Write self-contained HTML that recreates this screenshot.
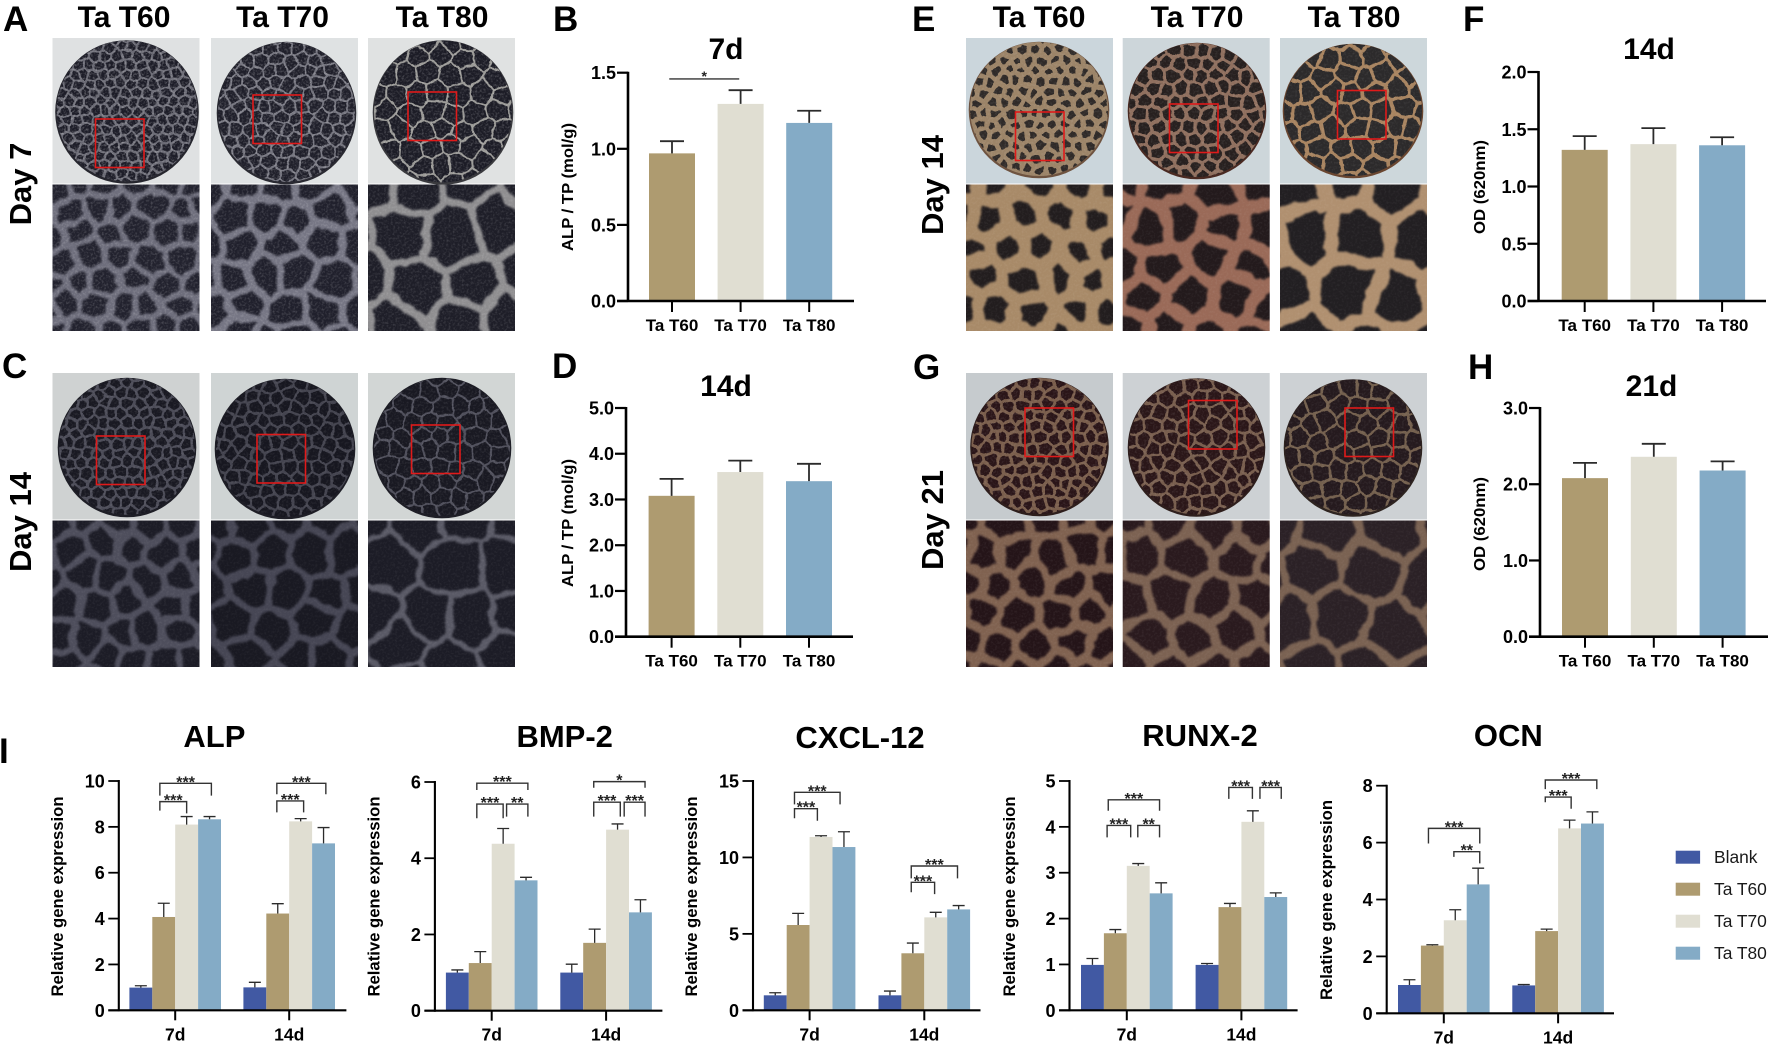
<!DOCTYPE html>
<html lang="en">
<head>
<meta charset="utf-8">
<title>Ta T60 / T70 / T80 staining and gene expression figure</title>
<style>
html,body{margin:0;padding:0;background:#fff;width:1772px;height:1049px;overflow:hidden}
svg{display:block;font-family:"Liberation Sans",Arial,sans-serif}
.bold{font-weight:bold;fill:#000}
</style>
</head>
<body>
<svg id="figure" xmlns="http://www.w3.org/2000/svg" width="1772" height="1049" viewBox="0 0 1772 1049">
<defs>
<filter id="wobble" x="-5%" y="-5%" width="110%" height="110%" color-interpolation-filters="sRGB">
<feTurbulence type="fractalNoise" baseFrequency="0.14" numOctaves="2" seed="4" result="n"/>
<feDisplacementMap in="SourceGraphic" in2="n" scale="3.5" xChannelSelector="R" yChannelSelector="G"/>
<feGaussianBlur stdDeviation="0.35"/>
</filter>
<filter id="wobbleBig" x="-5%" y="-5%" width="110%" height="110%" color-interpolation-filters="sRGB">
<feTurbulence type="fractalNoise" baseFrequency="0.05" numOctaves="3" seed="9" result="n"/>
<feDisplacementMap in="SourceGraphic" in2="n" scale="11" xChannelSelector="R" yChannelSelector="G"/>
<feGaussianBlur stdDeviation="1"/>
</filter>
<filter id="grain" x="0" y="0" width="100%" height="100%" color-interpolation-filters="sRGB">
<feTurbulence type="fractalNoise" baseFrequency="0.45" numOctaves="2" seed="2"/>
<feColorMatrix type="matrix" values="0 0 0 0 1  0 0 0 0 1  0 0 0 0 1  2.4 0 0 0 -1.05"/>
</filter>
</defs>
<g id="photos"></g>
<g id="charts"></g>

<g class="bold" font-size="35">
<text class="bold" x="3" y="31">A</text>
<text class="bold" x="553" y="31">B</text>
<text class="bold" x="912" y="31">E</text>
<text class="bold" x="1463" y="31">F</text>
<text class="bold" x="2" y="378">C</text>
<text class="bold" x="552" y="378">D</text>
<text class="bold" x="913" y="379">G</text>
<text class="bold" x="1468" y="379">H</text>
<text class="bold" x="-1" y="763">I</text>
</g>

<g font-size="30" text-anchor="middle">
<text class="bold" x="124" y="27">Ta T60</text>
<text class="bold" x="282.5" y="27">Ta T70</text>
<text class="bold" x="442" y="27">Ta T80</text>
<text class="bold" x="1039" y="27">Ta T60</text>
<text class="bold" x="1197" y="27">Ta T70</text>
<text class="bold" x="1354" y="27">Ta T80</text>
</g>

<g font-size="31" text-anchor="middle">
<text class="bold" transform="translate(31,184) rotate(-90)">Day 7</text>
<text class="bold" transform="translate(31,522) rotate(-90)">Day 14</text>
<text class="bold" transform="translate(943,185) rotate(-90)">Day 14</text>
<text class="bold" transform="translate(943,520) rotate(-90)">Day 21</text>
</g>

<g text-anchor="middle">
<text class="bold" font-size="30" x="726" y="59">7d</text>
<text class="bold" font-size="30" x="726" y="396">14d</text>
<text class="bold" font-size="30" x="1649" y="59">14d</text>
<text class="bold" font-size="30" x="1651.5" y="396">21d</text>
<text class="bold" font-size="31" x="214.4" y="747">ALP</text>
<text class="bold" font-size="31" x="564.7" y="747">BMP-2</text>
<text class="bold" font-size="31" x="860" y="748">CXCL-12</text>
<text class="bold" font-size="31" x="1200" y="746">RUNX-2</text>
<text class="bold" font-size="31" x="1508.3" y="746">OCN</text>
</g>

<g text-anchor="middle">
<text class="bold" font-size="16" textLength="128" lengthAdjust="spacingAndGlyphs" transform="translate(573,187) rotate(-90)">ALP / TP (mol/g)</text>
<text class="bold" font-size="16" textLength="128" lengthAdjust="spacingAndGlyphs" transform="translate(573,523) rotate(-90)">ALP / TP (mol/g)</text>
<text class="bold" font-size="16" textLength="94" lengthAdjust="spacingAndGlyphs" transform="translate(1485,187) rotate(-90)">OD (620nm)</text>
<text class="bold" font-size="16" textLength="94" lengthAdjust="spacingAndGlyphs" transform="translate(1485,524) rotate(-90)">OD (620nm)</text>
<text class="bold" font-size="17" textLength="200" lengthAdjust="spacingAndGlyphs" transform="translate(63,896.5) rotate(-90)">Relative gene expression</text>
<text class="bold" font-size="17" textLength="200" lengthAdjust="spacingAndGlyphs" transform="translate(379.5,896.5) rotate(-90)">Relative gene expression</text>
<text class="bold" font-size="17" textLength="200" lengthAdjust="spacingAndGlyphs" transform="translate(697,896.5) rotate(-90)">Relative gene expression</text>
<text class="bold" font-size="17" textLength="200" lengthAdjust="spacingAndGlyphs" transform="translate(1015,896.5) rotate(-90)">Relative gene expression</text>
<text class="bold" font-size="17" textLength="200" lengthAdjust="spacingAndGlyphs" transform="translate(1332,900) rotate(-90)">Relative gene expression</text>
</g>

<g font-size="17.4" fill="#1a1a1a">
<g><rect x="1675.7" y="850.7" width="24.4" height="13" fill="#4159A3"/><text x="1714" y="863">Blank</text></g>
<g><rect x="1675.7" y="882.7" width="24.4" height="13" fill="#AE9B70"/><text x="1714" y="895">Ta T60</text></g>
<g><rect x="1675.7" y="914.7" width="24.4" height="13" fill="#E0DED2"/><text x="1714" y="927">Ta T70</text></g>
<g><rect x="1675.7" y="946.7" width="24.4" height="13" fill="#84ABC6"/><text x="1714" y="959">Ta T80</text></g>
</g>
</svg>

<script>
/* ---------- chart data ---------- */
const materialCategories = ['Ta T60', 'Ta T70', 'Ta T80'];
const dayCategories = ['7d', '14d'];
const seriesNames = ['blank', 'ta-t60', 'ta-t70', 'ta-t80'];

const panelBMeans = [0.97, 1.295, 1.17];
const panelBErrors = [0.08, 0.09, 0.08];
const panelBTicks = ['0.0', '0.5', '1.0', '1.5'];
const panelDMeans = [3.08, 3.6, 3.4];
const panelDErrors = [0.37, 0.25, 0.38];
const panelDTicks = ['0.0', '1.0', '2.0', '3.0', '4.0', '5.0'];
const panelFMeans = [1.32, 1.37, 1.36];
const panelFErrors = [0.12, 0.14, 0.07];
const panelFTicks = ['0.0', '0.5', '1.0', '1.5', '2.0'];
const panelHMeans = [2.08, 2.36, 2.18];
const panelHErrors = [0.2, 0.17, 0.12];
const panelHTicks = ['0.0', '1.0', '2.0', '3.0'];

const alp7dMeans = [0.99, 4.07, 8.1, 8.33];
const alp7dErrors = [0.08, 0.6, 0.35, 0.12];
const alp14dMeans = [1.0, 4.22, 8.24, 7.28];
const alp14dErrors = [0.22, 0.43, 0.12, 0.69];
const alpTicks = ['0', '2', '4', '6', '8', '10'];

const bmp7dMeans = [1.0, 1.25, 4.38, 3.42];
const bmp7dErrors = [0.07, 0.3, 0.4, 0.08];
const bmp14dMeans = [1.0, 1.78, 4.75, 2.58];
const bmp14dErrors = [0.22, 0.36, 0.15, 0.33];
const bmpTicks = ['0', '2', '4', '6'];

const cxcl7dMeans = [0.98, 5.58, 11.34, 10.68];
const cxcl7dErrors = [0.17, 0.76, 0.08, 1.0];
const cxcl14dMeans = [0.98, 3.73, 6.08, 6.6];
const cxcl14dErrors = [0.28, 0.67, 0.33, 0.25];
const cxclTicks = ['0', '5', '10', '15'];

const runx7dMeans = [0.99, 1.68, 3.15, 2.55];
const runx7dErrors = [0.14, 0.08, 0.05, 0.23];
const runx14dMeans = [0.99, 2.25, 4.11, 2.47];
const runx14dErrors = [0.03, 0.08, 0.24, 0.09];
const runxTicks = ['0', '1', '2', '3', '4', '5'];

const ocn7dMeans = [0.995, 2.38, 3.27, 4.53];
const ocn7dErrors = [0.185, 0.03, 0.37, 0.57];
const ocn14dMeans = [0.98, 2.89, 6.5, 6.67];
const ocn14dErrors = [0.03, 0.07, 0.29, 0.41];
const ocnTicks = ['0', '2', '4', '6', '8'];

/* significance brackets: barFrom, barTo, topValue, leftEndValue, rightEndValue, stars */
const panelBBracket = [-0.04, 0.98, 1.459, '*'];
const alp7dBrackets = [[0.83, 3.08, 9.9, 9.36, 9.36, '***'], [0.83, 2, 9.1, 8.71, 8.59, '***']];
const alp14dBrackets = [[0.96, 3.1, 9.9, 9.42, 9.42, '***'], [0.96, 2.13, 9.13, 8.63, 8.63, '***']];
const bmp7dBrackets = [[0.85, 3.08, 5.97, 5.79, 5.79, '***'], [0.85, 2, 5.42, 5.05, 5.05, '***'], [2.15, 3.08, 5.42, 5.09, 5.09, '**']];
const bmp14dBrackets = [[0.96, 3.2, 6.01, 5.85, 5.85, '*'], [0.96, 2.12, 5.47, 5.09, 5.09, '***'], [2.29, 3.2, 5.47, 5.09, 5.09, '***']];
const cxcl7dBrackets = [[0.84, 2.83, 14.26, 13.47, 13.47, '***'], [0.84, 1.84, 13.19, 12.56, 12.4, '***']];
const cxcl14dBrackets = [[0.93, 2.95, 9.44, 8.63, 8.63, '***'], [0.93, 1.95, 8.37, 7.72, 7.6, '***']];
const runx7dBrackets = [[0.69, 2.93, 4.59, 4.35, 4.35, '***'], [0.64, 1.67, 4.03, 3.77, 3.77, '***'], [1.98, 2.93, 4.03, 3.77, 3.77, '**']];
const runx14dBrackets = [[0.95, 1.98, 4.86, 4.61, 4.61, '***'], [2.31, 3.24, 4.86, 4.61, 4.61, '***']];
const ocn7dBrackets = [[0.83, 3.07, 6.5, 5.97, 5.97, '***'], [1.94, 3.07, 5.68, 5.5, 5.27, '**']];
const ocn14dBrackets = [[0.94, 3.19, 8.2, 7.88, 7.88, '***'], [0.94, 2.07, 7.6, 7.42, 7.19, '***']];

const barColors = ['#4159A3', '#AE9B70', '#E0DED2', '#84ABC6'];
const materialColors = ['#AE9B70', '#E0DED2', '#84ABC6'];

/* ---------- helpers ---------- */
const NS = 'http://www.w3.org/2000/svg';
function mk(tag, attrs, parent, text) {
  const el = document.createElementNS(NS, tag);
  for (const k in attrs) el.setAttribute(k, attrs[k]);
  if (text !== undefined) el.textContent = text;
  parent.appendChild(el);
  return el;
}
const chartsRoot = document.getElementById('charts');
const photosRoot = document.getElementById('photos');

function drawAxes(g, id, scaleY, axisX, xLeft, xEnd, y0, tickLabels, labelGap, axisW, tickFont) {
  const yLine = mk('line', {x1: axisX, x2: axisX, y1: scaleY(parseFloat(tickLabels[tickLabels.length - 1])) - 1, y2: y0 + 1, stroke: '#000', 'stroke-width': axisW}, g);
  
  
  const xLine = mk('line', {x1: xLeft, x2: xEnd, y1: y0, y2: y0, stroke: '#000', 'stroke-width': axisW}, g);
  
  
  tickLabels.forEach(function (lab) {
    const y = scaleY(parseFloat(lab));
    const tick = mk('line', {x1: xLeft, x2: axisX, y1: y, y2: y, stroke: '#000', 'stroke-width': axisW * 0.85}, g);
    
    
    const label = mk('text', {x: axisX - labelGap, y: y + 6.5, 'text-anchor': 'end', 'font-size': tickFont, 'font-weight': 'bold', fill: '#000'}, g, lab);
    
    
  });
}

function drawBarWithError(g, name, x, w, scaleY, y0, mean, err, color, capW, stemW) {
  const top = scaleY(mean);
  const bar = mk('rect', {x: x, y: top, width: w, height: y0 - top, fill: color}, g);
  
  
  const cx = x + w / 2;
  const errY = scaleY(mean + err);
  const stem = mk('path', {d: 'M' + cx + ' ' + top + 'V' + errY + 'M' + (cx - capW / 2) + ' ' + errY + 'H' + (cx + capW / 2), fill: 'none', stroke: '#2b2b2b', 'stroke-width': stemW}, g);
  
  
}

function drawSimplePanel(id, axisX, y0, yTop, xEnd, firstBar, step, barW, means, errors, ticks) {
  const g = mk('g', {}, chartsRoot);
  
  
  const max = parseFloat(ticks[ticks.length - 1]);
  const scaleY = function (v) { return y0 - v / max * (y0 - yTop); };
  const barX = function (i) { return firstBar + i * step; };
  means.forEach(function (m, i) {
    drawBarWithError(g, id + '-bar-' + materialCategories[i].replace(' ', '-').toLowerCase(), barX(i), barW, scaleY, y0, m, errors[i], materialColors[i], 24, 1.8);
  });
  drawAxes(g, id, scaleY, axisX, axisX - 11, xEnd, y0, ticks, 12, 2.6, 18);
  materialCategories.forEach(function (c, i) {
    const cx = barX(i) + barW / 2;
    const t = mk('line', {x1: cx, x2: cx, y1: y0, y2: y0 + 11, stroke: '#000', 'stroke-width': 2}, g);
    
    
    const lab = mk('text', {x: cx, y: y0 + 30, 'text-anchor': 'middle', 'font-size': 17, 'font-weight': 'bold', fill: '#000'}, g, c);
    
    
  });
  return {g: g, scaleY: scaleY, barX: barX, barW: barW};
}

function drawBracket(g, id, xOf, scaleY, b) {
  const xa = xOf(b[0]);
  const xb = xOf(b[1]);
  const top = scaleY(b[2]);
  const path = mk('path', {d: 'M' + xa + ' ' + scaleY(b[3]) + 'V' + top + 'H' + xb + 'V' + scaleY(b[4]), fill: 'none', stroke: '#333', 'stroke-width': 1.4}, g);
  
  
  const star = mk('text', {x: (xa + xb) / 2, y: top + 4, 'text-anchor': 'middle', 'font-size': 16, 'font-weight': 'bold', fill: '#222'}, g, b[5]);
  
  
}

function drawGroupedPanel(id, axisX, y0, yTop, xEnd, firstBar, groupStep, barW, means, errors, ticks, brackets) {
  const g = mk('g', {}, chartsRoot);
  
  
  const max = parseFloat(ticks[ticks.length - 1]);
  const scaleY = function (v) { return y0 - v / max * (y0 - yTop); };
  const barX = function (group, s) { return firstBar + group * groupStep + s * barW; };
  dayCategories.forEach(function (day, gi) {
    means[gi].forEach(function (m, s) {
      drawBarWithError(g, id + '-bar-' + day + '-' + seriesNames[s], barX(gi, s), barW, scaleY, y0, m, errors[gi][s], barColors[s], 12, 1.3);
    });
  });
  drawAxes(g, id, scaleY, axisX, axisX - 10.5, xEnd, y0, ticks, 14, 2.1, 18);
  dayCategories.forEach(function (day, gi) {
    const cx = barX(gi, 2);
    const t = mk('line', {x1: cx, x2: cx, y1: y0, y2: y0 + 10, stroke: '#000', 'stroke-width': 2}, g);
    
    
    const lab = mk('text', {x: cx, y: y0 + 30, 'text-anchor': 'middle', 'font-size': 17.5, 'font-weight': 'bold', fill: '#000'}, g, day);
    
    
    brackets[gi].forEach(function (b) {
      drawBracket(g, id + '-' + day, function (s) { return barX(gi, s) + barW / 2; }, scaleY, b);
    });
  });
}

/* ---------- charts ---------- */
const panelB = drawSimplePanel('panel-b', 628, 301, 72.7, 854, 649, 68.6, 46, panelBMeans, panelBErrors, panelBTicks);
drawBracketLine(panelB, panelBBracket);
drawSimplePanel('panel-d', 626, 636.7, 408, 853, 648.6, 68.7, 46, panelDMeans, panelDErrors, panelDTicks);
drawSimplePanel('panel-f', 1538.5, 301, 72, 1766, 1561.7, 68.7, 46, panelFMeans, panelFErrors, panelFTicks);
drawSimplePanel('panel-h', 1540, 636.7, 408, 1768, 1562, 68.8, 46, panelHMeans, panelHErrors, panelHTicks);

function drawBracketLine(p, b) {
  const xa = p.barX(0) + p.barW / 2 + b[0] * 68.6;
  const xb = p.barX(0) + p.barW / 2 + b[1] * 68.6;
  const y = p.scaleY(b[2]);
  const line = mk('line', {x1: xa, x2: xb, y1: y, y2: y, stroke: '#333', 'stroke-width': 1.3}, p.g);
  
  
  const star = mk('text', {x: (xa + xb) / 2, y: y + 2, 'text-anchor': 'middle', 'font-size': 14, 'font-weight': 'bold', fill: '#222'}, p.g, b[3]);
  
  
}

drawGroupedPanel('alp', 118.8, 1010.3, 781, 346.4, 129.4, 114, 22.9, [alp7dMeans, alp14dMeans], [alp7dErrors, alp14dErrors], alpTicks, [alp7dBrackets, alp14dBrackets]);
drawGroupedPanel('bmp-2', 434.9, 1010.7, 782, 662.4, 445.9, 114.4, 22.9, [bmp7dMeans, bmp14dMeans], [bmp7dErrors, bmp14dErrors], bmpTicks, [bmp7dBrackets, bmp14dBrackets]);
drawGroupedPanel('cxcl-12', 753, 1010.3, 781, 980.5, 763.8, 114.7, 22.9, [cxcl7dMeans, cxcl14dMeans], [cxcl7dErrors, cxcl14dErrors], cxclTicks, [cxcl7dBrackets, cxcl14dBrackets]);
drawGroupedPanel('runx-2', 1069.5, 1010.3, 781, 1297.6, 1081, 114.6, 22.9, [runx7dMeans, runx14dMeans], [runx7dErrors, runx14dErrors], runxTicks, [runx7dBrackets, runx14dBrackets]);
drawGroupedPanel('ocn', 1386.7, 1013.3, 785.7, 1614, 1398, 114.3, 22.9, [ocn7dMeans, ocn14dMeans], [ocn7dErrors, ocn14dErrors], ocnTicks, [ocn7dBrackets, ocn14dBrackets]);

/* ---------- stylised photographs of the porous discs ---------- */
function rng(seed) {
  let s = seed >>> 0;
  return function () { s = (s * 1664525 + 1013904223) >>> 0; return s / 4294967296; };
}
function clipHalf(poly, px, py, nx, ny) {
  const out = [];
  for (let i = 0; i < poly.length; i++) {
    const a = poly[i], b = poly[(i + 1) % poly.length];
    const da = (a[0] - px) * nx + (a[1] - py) * ny;
    const db = (b[0] - px) * nx + (b[1] - py) * ny;
    if (da <= 0) out.push(a);
    if ((da < 0 && db > 0) || (da > 0 && db < 0)) {
      const t = da / (da - db);
      out.push([a[0] + (b[0] - a[0]) * t, a[1] + (b[1] - a[1]) * t]);
    }
  }
  return out;
}
function cellPath(x, y, w, h, spacing, seed) {
  const r = rng(seed);
  const seeds = [];
  const rowH = spacing * 0.87;
  for (let j = -1; j * rowH < h + spacing; j++) {
    for (let i = -1; i * spacing < w + spacing; i++) {
      seeds.push([
        x + (i + (j % 2 ? 0.5 : 0)) * spacing + (r() - 0.5) * spacing * 0.5,
        y + j * rowH + (r() - 0.5) * spacing * 0.5
      ]);
    }
  }
  let d = '';
  const lim = spacing * 3;
  seeds.forEach(function (s, si) {
    let poly = [[x - spacing, y - spacing], [x + w + spacing, y - spacing], [x + w + spacing, y + h + spacing], [x - spacing, y + h + spacing]];
    seeds.forEach(function (o, oi) {
      if (oi === si) return;
      const dx = o[0] - s[0], dy = o[1] - s[1];
      if (Math.abs(dx) > lim || Math.abs(dy) > lim) return;
      poly = clipHalf(poly, (s[0] + o[0]) / 2, (s[1] + o[1]) / 2, dx, dy);
    });
    if (poly.length > 2) {
      d += 'M' + poly.map(function (p) { return p[0].toFixed(1) + ' ' + p[1].toFixed(1); }).join('L') + 'Z';
    }
  });
  return d;
}
let clipCounter = 0;
function drawTexture(parent, name, x, y, w, h, shape, spacing, strut, hole, sw, seed, filterId, grainOpacity) {
  const clipId = 'clip' + (clipCounter++);
  const cp = mk('clipPath', {id: clipId}, parent);
  if (shape) {
    mk('ellipse', {cx: shape[0], cy: shape[1], rx: shape[2], ry: shape[3]}, cp);
  } else {
    mk('rect', {x: x, y: y, width: w, height: h}, cp);
  }
  const g = mk('g', {'clip-path': 'url(#' + clipId + ')'}, parent);
  
  
  const inner = mk('g', {filter: 'url(#' + filterId + ')'}, g);
  mk('rect', {x: x - 6, y: y - 6, width: w + 12, height: h + 12, fill: strut}, inner);
  mk('path', {d: cellPath(x, y, w, h, spacing, seed), fill: hole, stroke: strut, 'stroke-width': sw, 'stroke-linejoin': 'round'}, inner);
  if (grainOpacity) {
    mk('rect', {x: x, y: y, width: w, height: h, filter: 'url(#grain)', opacity: grainOpacity}, g);
  }
}
function drawPhotoColumn(panel, col, x, yTop, yMid, yBot, disc, red, look, spacingDisc, spacingZoom, seed) {
  const w = 147;
  const top = mk('g', {}, photosRoot);
  
  
  const bg = mk('rect', {x: x, y: yTop, width: w, height: yMid - yTop, fill: look.bg}, top);
  
  
  const shadow = mk('ellipse', {cx: disc[0], cy: disc[1] + 1, rx: disc[2] + 0.8, ry: disc[3] + 0.8, fill: look.rim}, top);
  
  
  drawTexture(top, panel + '-disc-' + col, x, yTop, w, yMid - yTop, [disc[0], disc[1], disc[2] - 0.5, disc[3] - 0.5], spacingDisc, look.strut, look.hole, look.sw, seed, 'wobble', look.grain);
  const box = mk('rect', {x: red[0], y: red[1], width: 48.5, height: 48.5, fill: 'none', stroke: '#e01a1a', 'stroke-width': 1.6}, top);
  
  
  const zoom = mk('g', {}, photosRoot);
  
  
  drawTexture(zoom, panel + '-zoom-' + col, x, yMid + 1, w, yBot - yMid - 1, null, spacingZoom, look.zStrut, look.zHole, look.zSw, seed + 77, 'wobbleBig', look.grain * 0.6);
}

const leftX = [52.5, 211, 368];
const rightX = [966, 1122.7, 1280];
const discSpacingA = [10.5, 13, 21];
const discSpacingC = [11.5, 13.5, 18];
const discSpacingE = [12.5, 14.5, 21];
const discSpacingG = [12.5, 15, 19];
const zoomSpacingA = [28, 36, 56];
const zoomSpacingC = [32, 40, 52];
const zoomSpacingE = [36, 44, 60];
const zoomSpacingG = [36, 44, 58];

const lookA = [
  {bg:'#dfe1e2', rim:'#26262e', strut:'#6a6a74', hole:'#1d1d28', sw:2.2, grain:0.3, zStrut:'#6e6e7c', zHole:'#22222e', zSw:6.5},
  {bg:'#dfe2e3', rim:'#2a2a32', strut:'#74747e', hole:'#1f1f2a', sw:2, grain:0.28, zStrut:'#767684', zHole:'#20202c', zSw:7.5},
  {bg:'#e0e2e2', rim:'#3a3a3e', strut:'#9a9996', hole:'#1c1c26', sw:2, grain:0.22, zStrut:'#8f8e90', zHole:'#1e1e28', zSw:9}
];
const lookC = [
  {bg:'#cfd2d2', rim:'#1e1e26', strut:'#4c4c58', hole:'#191922', sw:2.6, grain:0.1, zStrut:'#4e4e5c', zHole:'#1c1c26', zSw:7.5},
  {bg:'#cfd4d4', rim:'#1e1e26', strut:'#44444f', hole:'#171720', sw:2.6, grain:0.08, zStrut:'#464654', zHole:'#191922', zSw:8},
  {bg:'#d2d6d5', rim:'#1e1e26', strut:'#50505c', hole:'#191922', sw:2, grain:0.1, zStrut:'#5a5a66', zHole:'#1c1c26', zSw:6}
];
const lookE = [
  {bg:'#cbd6dc', rim:'#6e5340', strut:'#9c8468', hole:'#2f2a28', sw:5, grain:0.1, zStrut:'#a88a68', zHole:'#221d1e', zSw:15},
  {bg:'#cdd6da', rim:'#4a2a22', strut:'#8f6f5e', hole:'#27201f', sw:3.4, grain:0.1, zStrut:'#9a6a58', zHole:'#231a1c', zSw:13},
  {bg:'#cdd7db', rim:'#6a4630', strut:'#a88460', hole:'#2c2a2b', sw:3.2, grain:0.08, zStrut:'#b09070', zHole:'#221f22', zSw:14}
];
const lookG = [
  {bg:'#c6cbce', rim:'#2e1e1c', strut:'#7a5e4c', hole:'#2a1518', sw:3.2, grain:0.1, zStrut:'#806250', zHole:'#241418', zSw:9.5},
  {bg:'#cdd1d4', rim:'#2e1e1c', strut:'#785e4e', hole:'#2a1618', sw:2.8, grain:0.1, zStrut:'#7c6252', zHole:'#2a1a1e', zSw:9.5},
  {bg:'#cdd1d4', rim:'#2e2420', strut:'#74604e', hole:'#251a1e', sw:2.6, grain:0.08, zStrut:'#7a6252', zHole:'#2b2126', zSw:9}
];

const discsA = [[127, 111, 71, 71], [286.5, 112, 69, 70.5], [443, 111.5, 69.5, 71.5]];
const discsC = [[127, 446.5, 68.5, 69], [285, 448, 69.5, 69.5], [442, 447, 68.5, 69.5]];
const discsE = [[1039, 109, 69.5, 67.5], [1197, 110, 68.5, 67.5], [1353, 110, 69.5, 66.5]];
const discsG = [[1039.5, 446, 68.5, 68.5], [1196.5, 446.5, 68, 68.5], [1353, 447, 68.5, 68]];
const redA = [[95.5, 119], [253, 95], [408, 92]];
const redC = [[96.5, 436], [257, 434.5], [411.5, 425]];
const redE = [[1015.5, 112], [1169.5, 104], [1337.5, 90.5]];
const redG = [[1025, 408], [1188.5, 400.5], [1345, 408]];
const colNames = ['ta-t60', 'ta-t70', 'ta-t80'];

colNames.forEach(function (col, i) {
  drawPhotoColumn('panel-a', col, leftX[i], 38, 183.5, 331, discsA[i], redA[i], lookA[i], discSpacingA[i], zoomSpacingA[i], 11 + i * 13);
  drawPhotoColumn('panel-c', col, leftX[i], 373, 519.5, 667, discsC[i], redC[i], lookC[i], discSpacingC[i], zoomSpacingC[i], 211 + i * 17);
  drawPhotoColumn('panel-e', col, rightX[i], 38, 183.5, 331, discsE[i], redE[i], lookE[i], discSpacingE[i], zoomSpacingE[i], 431 + i * 19);
  drawPhotoColumn('panel-g', col, rightX[i], 373, 519.5, 667, discsG[i], redG[i], lookG[i], discSpacingG[i], zoomSpacingG[i], 631 + i * 23);
});
</script>
</body>
</html>
